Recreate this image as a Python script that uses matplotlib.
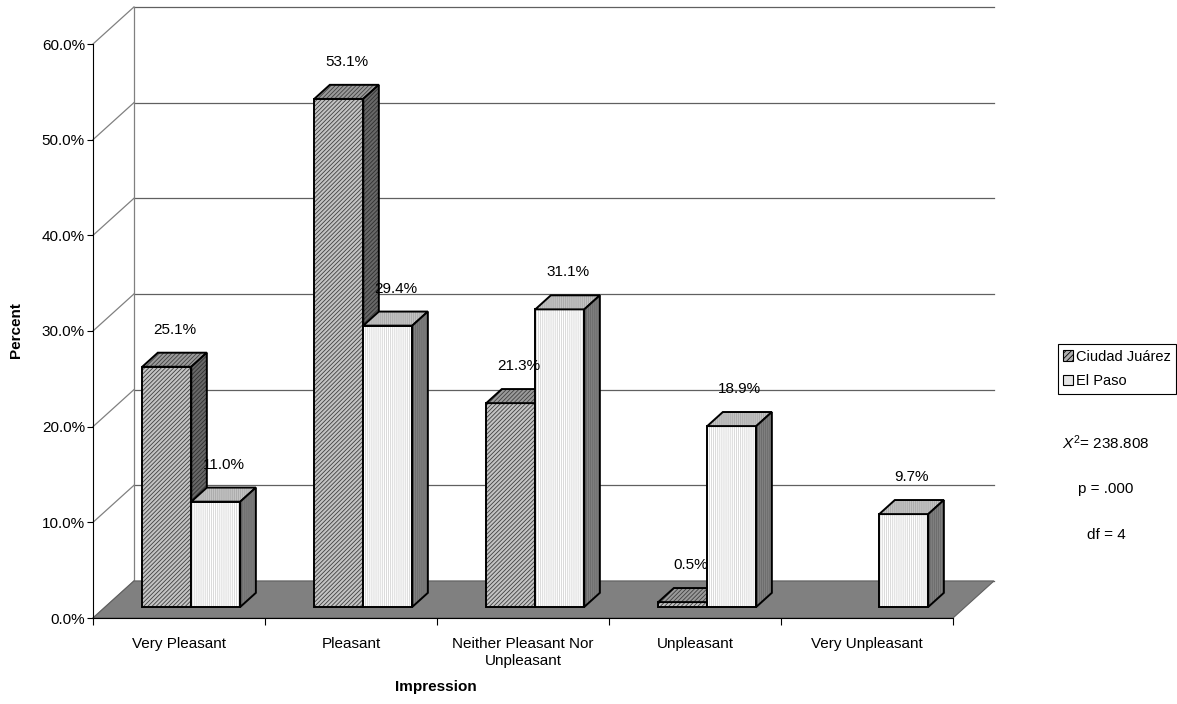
import matplotlib
matplotlib.use("Agg")
import matplotlib.pyplot as plt
from matplotlib.patches import Polygon, Patch

plt.rcParams['font.family'] = ['Liberation Sans', 'DejaVu Sans']
plt.rcParams['mathtext.fontset'] = 'custom'
plt.rcParams['mathtext.rm'] = 'Liberation Sans'
plt.rcParams['mathtext.it'] = 'Liberation Sans:italic'
plt.rcParams['hatch.linewidth'] = 0.6

# data
categories = ['Very Pleasant', 'Pleasant', 'Neither Pleasant Nor\nUnpleasant',
              'Unpleasant', 'Very Unpleasant']
series_names = ['Ciudad Juárez', 'El Paso']
ciudad_juarez = [25.1, 53.1, 21.3, 0.5, 0.0]
el_paso = [11.0, 29.4, 31.1, 18.9, 9.7]
y_ticks = [0, 10, 20, 30, 40, 50, 60]

# oblique "3d" projection: one unit of depth moves a point by (DX, DY) in data units
DX = 0.238
DY = 3.87
D0, D1 = 0.30, 0.68   # depth range of the bars
BW = 0.285           # bar width

# face styles: (front, top, side) fill colours, hatch, hatch colour
styles = [
    dict(fc=['#c4c4c4', '#9a9a9a', '#686868'], hatch='////////', hc=['#404040', '#404040', '#303030']),
    dict(fc=['#ffffff', '#c4c4c4', '#808080'], hatch='||||||||', hc=['#d4d4d4', '#a8a8a8', '#6a6a6a']),
]

fig = plt.figure(figsize=(11.77, 7.04), dpi=100)
ax = fig.add_axes([93/1177, 86/704, 860/1177, 574/704])
ax.set_xlim(-0.5, 4.5)
ax.set_ylim(0, 60)
ax.set_facecolor('none')


def face(pts, fc, hatch, hc, z):
    ax.add_patch(Polygon(pts, closed=True, facecolor=fc, edgecolor='none', zorder=z, clip_on=False))
    ax.add_patch(Polygon(pts, closed=True, facecolor='none', edgecolor=hc, hatch=hatch,
                         lw=0, zorder=z, clip_on=False))
    ax.add_patch(Polygon(pts, closed=True, fill=False, edgecolor='black', lw=1.4,
                         zorder=z, clip_on=False, joinstyle='miter'))


def p(x, y, d):
    return (x + d * DX, y + d * DY)


# walls and gridlines
x0, x1 = -0.5, 4.5
for t in y_ticks:
    ax.plot([x0 + DX, x1 + DX], [t + DY, t + DY], color='#606060', lw=0.9, zorder=1, clip_on=False)
    ax.plot([x0, x0 + DX], [t, t + DY], color='#808080', lw=0.9, zorder=1, clip_on=False)
ax.plot([x0 + DX, x0 + DX], [DY, 60 + DY], color='#808080', lw=0.9, zorder=1, clip_on=False)

# floor
ax.add_patch(Polygon([p(x0, 0, 0), p(x1, 0, 0), p(x1, 0, 1), p(x0, 0, 1)], closed=True,
                     facecolor='#808080', edgecolor='#606060', lw=0.8, zorder=2, clip_on=False))

# bars
z = 3
for i in range(len(categories)):
    for s, values in enumerate([ciudad_juarez, el_paso]):
        v = values[i]
        if v <= 0:
            continue
        st = styles[s]
        left = i - BW + s * BW
        right = left + BW
        front = [p(left, 0, D0), p(right, 0, D0), p(right, v, D0), p(left, v, D0)]
        top = [p(left, v, D0), p(right, v, D0), p(right, v, D1), p(left, v, D1)]
        side = [p(right, 0, D0), p(right, 0, D1), p(right, v, D1), p(right, v, D0)]
        face(front, st['fc'][0], st['hatch'], st['hc'][0], z)
        face(top, st['fc'][1], st['hatch'], st['hc'][1], z)
        face(side, st['fc'][2], st['hatch'], st['hc'][2], z)
        z += 1
        lx = (left + right) / 2 + (D0 + D1) / 2 * DX
        ax.annotate(f"{v:.1f}%", xy=(lx, v + D1 * DY), xytext=(0, 16.5), textcoords='offset points',
                    ha='center', va='center', fontsize=11, annotation_clip=False, zorder=50)

# axes
for side_name in ['top', 'right']:
    ax.spines[side_name].set_visible(False)
ax.spines['left'].set_zorder(60)
ax.spines['bottom'].set_zorder(60)
ax.set_yticks(y_ticks)
ax.set_yticklabels([f"{t:.1f}%" for t in y_ticks])
ax.tick_params(axis='y', direction='out', length=4.3, width=0.8, pad=1.5, labelsize=11)
ax.set_xticks(range(len(categories)))
ax.set_xticklabels(categories, fontsize=11)
ax.set_xticks([k - 0.5 for k in range(len(categories) + 1)], minor=True)
ax.tick_params(axis='x', which='major', length=0, pad=14)
ax.tick_params(axis='x', which='minor', length=5, width=0.8, direction='out')

fig.text(16/1177, (704 - 330)/704, 'Percent', rotation=90, fontsize=11, weight='bold',
         ha='center', va='center')
fig.text(436/1177, (704 - 687)/704, 'Impression', fontsize=11, weight='bold',
         ha='center', va='center')

# legend
handles = [Patch(facecolor='#b0b0b0', edgecolor='black', hatch='//////', lw=0.8),
           Patch(facecolor='#e4e4e4', edgecolor='black', lw=0.8)]
leg = fig.legend(handles, series_names, loc='center right', bbox_to_anchor=(1176/1177, (704 - 369)/704),
                 fontsize=10.5, frameon=True, fancybox=False, edgecolor='black', framealpha=1,
                 handlelength=0.7, handleheight=0.7, handletextpad=0.2, borderpad=0.35,
                 labelspacing=0.75, borderaxespad=0)
leg.get_frame().set_linewidth(0.8)

# test statistics
fig.text(1106/1177, (704 - 443)/704, r'$\mathit{X}^{2}$= 238.808', fontsize=11, ha='center', va='center')
fig.text(1106/1177, (704 - 489)/704, 'p = .000', fontsize=11, ha='center', va='center')
fig.text(1106/1177, (704 - 535)/704, 'df = 4', fontsize=11, ha='center', va='center')

fig.savefig('out.png', dpi=100)
